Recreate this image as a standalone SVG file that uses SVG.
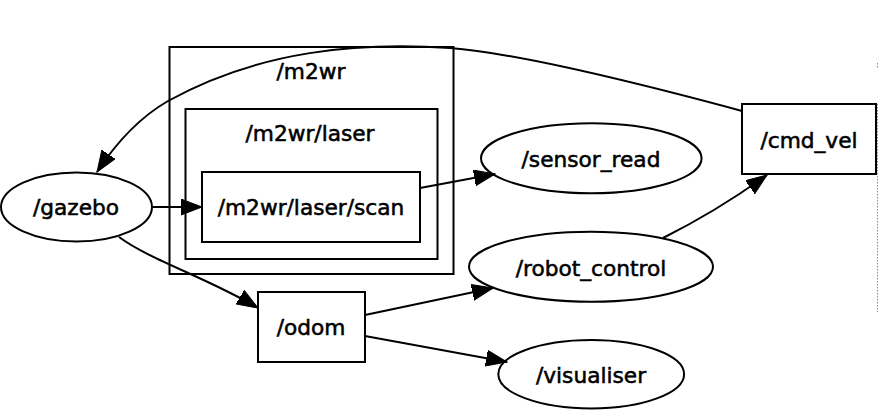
<svg xmlns="http://www.w3.org/2000/svg" width="878" height="411" viewBox="0 0 878 411">
<style>
  .shape { fill: none; stroke: #000; stroke-width: 2; }
  .lbl { font-family: "DejaVu Sans", "Liberation Sans", sans-serif; font-size: 21.7px; fill: #000; stroke: #000; stroke-width: 0.55; text-anchor: middle; }
  .edge { fill: none; stroke: #000; stroke-width: 2; marker-end: url(#arrow); }
</style>
<defs>
  <marker id="arrow" markerUnits="userSpaceOnUse" markerWidth="24" markerHeight="18" refX="21" refY="8" orient="auto">
    <path d="M0,0 L21,8 L0,16 z" fill="#000" stroke="#000" stroke-width="1"/>
  </marker>
</defs>
<rect width="878" height="411" fill="#fff"/>

<g id="cluster_m2wr">
  <rect class="shape" x="169.5" y="47" width="284" height="227"/>
  <text class="lbl" x="311" y="79">/m2wr</text>
</g>
<g id="cluster_m2wr_laser">
  <rect class="shape" x="185.5" y="109" width="252" height="150"/>
  <text class="lbl" x="310" y="141">/m2wr/laser</text>
</g>
<g id="node_scan">
  <rect class="shape" x="202" y="172" width="218" height="70"/>
  <text class="lbl" x="311" y="215">/m2wr/laser/scan</text>
</g>
<g id="node_gazebo">
  <ellipse class="shape" cx="76.5" cy="207" rx="75.5" ry="34.5"/>
  <text class="lbl" x="76" y="215">/gazebo</text>
</g>
<g id="node_cmd_vel">
  <rect class="shape" x="742" y="104" width="134" height="70"/>
  <text class="lbl" x="809" y="148">/cmd_vel</text>
</g>
<g id="node_sensor_read">
  <ellipse class="shape" cx="591.3" cy="158.3" rx="110.3" ry="35"/>
  <text class="lbl" x="591" y="166.5">/sensor_read</text>
</g>
<g id="node_robot_control">
  <ellipse class="shape" cx="591" cy="266.7" rx="122" ry="35"/>
  <text class="lbl" x="591" y="276">/robot_control</text>
</g>
<g id="node_odom">
  <rect class="shape" x="258" y="292" width="107" height="70"/>
  <text class="lbl" x="311" y="335">/odom</text>
</g>
<g id="node_visualiser">
  <ellipse class="shape" cx="591.2" cy="374.2" rx="92.9" ry="34.2"/>
  <text class="lbl" x="591" y="383">/visualiser</text>
</g>

<g id="connectors">
  <path class="edge" d="M742,111 C690,97 530,54 450,48 C360,42 260,50 168,101 C142,116 118,140 97,172"/>
  <path class="edge" d="M152,207 L202,207"/>
  <path class="edge" d="M119,237 C150,260 210,279 258,308"/>
  <path class="edge" d="M420,188 L495,174"/>
  <path class="edge" d="M365,315 L493,288"/>
  <path class="edge" d="M365,336 L507,362"/>
  <path class="edge" d="M663,238 C695,222 735,198 767,175"/>
</g>

<g id="edge_mark">
  <line x1="877.5" y1="63" x2="877.5" y2="69" stroke="#8a8aa8" stroke-width="1" stroke-dasharray="1.5,1.5"/>
  <line x1="877.5" y1="104" x2="877.5" y2="312" stroke="#8a8aa8" stroke-width="1" stroke-dasharray="1.5,1.5"/>
</g>
</svg>
